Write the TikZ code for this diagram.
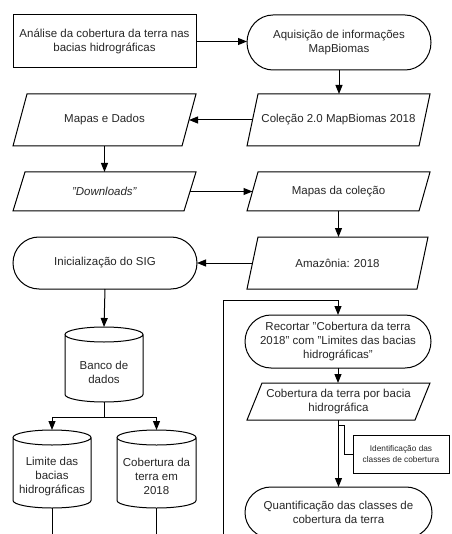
\documentclass[tikz,border=0pt]{standalone}
\usepackage{fontspec}
\setmainfont{Liberation Sans}
\usetikzlibrary{arrows.meta}
\begin{document}
\begin{tikzpicture}[x=1pt,y=-1pt,
  font=\fontsize{11.5}{14}\selectfont,
  line width=1pt,
  >={Triangle[length=9pt,width=7pt]},
  every node/.style={text=black!85},
  shapeline/.style={line width=1pt},
  proc/.style={draw, rectangle, align=center, inner sep=0pt},
  term/.style n args={3}{rectangle, align=center, inner xsep=-20pt, inner ysep=0pt,
    minimum width={#1-2*#3}, minimum height=#2, outer xsep=#3, outer ysep=0pt,
    append after command={\pgfextra{\draw[shapeline]
      ([xshift=#3]\tikzlastnode.north west) -- ([xshift=-#3]\tikzlastnode.north east)
      arc[start angle=90, end angle=-90, x radius=#3pt, y radius={#2pt/2}]
      -- ([xshift=#3]\tikzlastnode.south west)
      arc[start angle=270, end angle=90, x radius=#3pt, y radius={#2pt/2}] -- cycle;}}},
  dbase/.style n args={3}{rectangle, align=center, inner sep=0pt,
    minimum width=#1, minimum height=#2, outer sep=0pt,
    append after command={\pgfextra{\draw[shapeline]
      ([yshift=#3]\tikzlastnode.north) ellipse[x radius={#1pt/2}, y radius=#3pt]
      ([yshift=#3]\tikzlastnode.north west) -- ([yshift=#3]\tikzlastnode.south west)
      arc[start angle=180, end angle=360, x radius={#1pt/2}, y radius=#3pt]
      -- ([yshift=#3]\tikzlastnode.north east);}}},
  iobox/.style n args={3}{rectangle, align=center, inner xsep=0pt, inner ysep=0pt,
    minimum width={#1-#3}, minimum height=#2, outer sep=0pt,
    append after command={\pgfextra{\draw[shapeline]
      ([xshift=-#3/2]\tikzlastnode.south west) --
      ([xshift=#3/2]\tikzlastnode.north west) --
      ([xshift=#3/2]\tikzlastnode.north east) --
      ([xshift=-#3/2]\tikzlastnode.south east) -- cycle;}}},
  annot/.style={font=\fontsize{8.3}{11}\selectfont}
]
\clip (0,0) rectangle (451,534);

\node[proc, minimum width=183, minimum height=53] (A) at (104.5,41.5)
  {Análise da cobertura da terra nas\\bacias hidrográficas};
\node[term={184}{55}{26}] (B) at (339,42.5)
  {Aquisição de informações\\MapBiomas};
\node[iobox={183}{52}{11}] (C) at (338.5,120) {Coleção 2.0 MapBiomas 2018};
\node[iobox={183}{52}{14}] (D) at (104.5,120) {Mapas e Dados};
\node[iobox={183}{39}{12}] (E) at (104.5,191.5) {\textit{"Downloads"}};
\node[iobox={183}{39}{11}] (F) at (338.5,191.5) {Mapas da coleção};
\node[iobox={181}{52}{11}] (G) at (337.5,263) {Amazônia: 2018};
\node[term={184}{52}{26}] (H) at (105,263) {Inicialização do SIG};
\node[dbase={78}{60}{7.5}] (I) at (104,372) {Banco de\\dados};
\node[dbase={78}{63}{7.5}] (J) at (52,476.5) {Limite das\\bacias\\hidrográficas};
\node[dbase={79}{63}{7.5}] (K) at (156.5,476.5) {Cobertura da\\terra em\\2018};
\node[term={186}{53}{26}] (L) at (338,341.5)
  {Recortar "Cobertura da terra\\2018" com "Limites das bacias\\hidrográficas"};
\node[iobox={183}{37}{15}] (M) at (338.5,401.5) {Cobertura da terra por bacia\\hidrográfica};
\node[proc, annot, minimum width=96, minimum height=38] (N) at (401,454)
  {Identificação das\\classes de cobertura};
\node[term={187}{51}{26}] (O) at (338.5,512.5)
  {Quantificação das classes de\\cobertura da terra};

\coordinate (bot) at (0,540);
\coordinate (loopstart) at (223,540);
\coordinate (turn) at (223,300);

\draw[->] (A.east) -- (A.east -| B.west);
\draw[->] (B.south) -- (B.south |- C.north);
\draw[->] (C.west) -- (C.west -| D.east);
\draw[->] (D.south) -- (D.south |- E.north);
\draw[->] (E.east) -- (E.east -| F.west);
\draw[->] (F.south) -- (F.south |- G.north);
\draw[->] (G.west) -- (G.west -| H.east);
\draw[->] (H.south) -- ([yshift=15pt]I.north);
\draw (I.south) -- ++(0,15) coordinate (split);
\draw[->] (split) -| ([yshift=15pt]J.north);
\draw[->] (split) -| ([yshift=15pt]K.north);
\draw (J.south) -- (J.south |- bot);
\draw (K.south) -- (K.south |- bot);
\draw[->] (loopstart) -- (turn) -| (L.north);
\draw[->] (L.south) -- (L.south |- M.north);
\draw[->] (M.south) -- (M.south |- O.north);
\draw[line width=0.8pt] ([yshift=-5pt]M.south) -- ++(6,0) |- (N.west);
\end{tikzpicture}
\end{document}
